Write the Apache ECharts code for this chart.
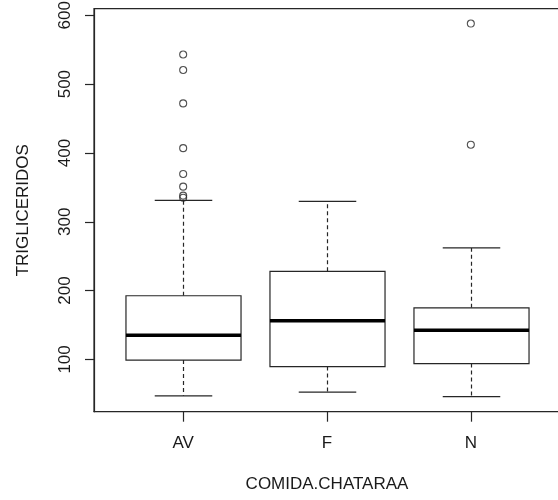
<!DOCTYPE html>
<html>
	<head>
		<meta charset="utf-8">
		<title>TRIGLICERIDOS por COMIDA.CHATARAA</title>
		<script src="https://cdn.jsdelivr.net/npm/echarts@6/dist/echarts.min.js"></script>
	</head>
	<body style="margin:0; background:#fff">
		<div id="container" style="width:558px; height:500px;"></div>
		<script type="text/javascript">
			// categorias del eje x
			var categories = ['AV', 'F', 'N'];
			// cinco numeros de cada caja (bigote inf, Q1, mediana, Q3, bigote sup)
			var lowerWhisker = [47, 52.5, 46];
			var q1 = [99, 89.5, 94];
			var median = [135, 156, 142.5];
			var q3 = [192.5, 228, 175];
			var upperWhisker = [331, 329.5, 262];
			// valores atipicos
			var outliersAV = [543, 520.5, 472, 407, 369.5, 351, 338, 335];
			var outliersF = [];
			var outliersN = [588, 412];
			// marcas del eje y
			var yTicks = [100, 200, 300, 400, 500, 600];

			var boxData = [];
			for (var i = 0; i < categories.length; i++) {
				boxData.push([i + 1, lowerWhisker[i], q1[i], median[i], q3[i], upperWhisker[i]]);
			}
			var outlierData = [];
			[outliersAV, outliersF, outliersN].forEach(function (list, i) {
				list.forEach(function (v) { outlierData.push([i + 1, v]); });
			});

			var lineColor = '#262626';
			var textColor = '#1a1a1a';
			var font = 'Liberation Sans, Arial, sans-serif';

			function renderBox(params, api) {
				var x = api.value(0);
				var lo = api.coord([x, api.value(1)]);
				var b1 = api.coord([x, api.value(2)]);
				var md = api.coord([x, api.value(3)]);
				var b3 = api.coord([x, api.value(4)]);
				var hi = api.coord([x, api.value(5)]);
				var unit = api.size([1, 0])[0];
				var half = unit * 0.4, cap = unit * 0.2;
				var cx = Math.round(lo[0]) + 0.5;
				var solid = { stroke: lineColor, lineWidth: 1.2, fill: null };
				var dashed = { stroke: lineColor, lineWidth: 1.2, lineDash: [4, 3] };
				return {
					type: 'group',
					children: [
						{ type: 'line', shape: { x1: cx, y1: b3[1], x2: cx, y2: hi[1] }, style: dashed },
						{ type: 'line', shape: { x1: cx, y1: b1[1], x2: cx, y2: lo[1] }, style: dashed },
						{ type: 'line', shape: { x1: cx - cap, y1: hi[1], x2: cx + cap, y2: hi[1] }, style: solid },
						{ type: 'line', shape: { x1: cx - cap, y1: lo[1], x2: cx + cap, y2: lo[1] }, style: solid },
						{ type: 'rect', shape: { x: cx - half, y: b3[1], width: half * 2, height: b1[1] - b3[1] }, style: { stroke: lineColor, lineWidth: 1.2, fill: '#fff' } },
						{ type: 'line', shape: { x1: cx - half, y1: md[1], x2: cx + half, y2: md[1] }, style: { stroke: '#000', lineWidth: 3.5 } }
					]
				};
			}

			var option = {
				animation: false,
				backgroundColor: '#fff',
				textStyle: { fontFamily: font },
				grid: {
					left: 94,
					top: 8.7,
					width: 466,
					height: 403,
					outerBoundsMode: 'none',
					show: true,
					borderColor: lineColor,
					borderWidth: 1.2,
					backgroundColor: 'transparent'
				},
				xAxis: {
					type: 'value',
					min: 0.38,
					max: 3.62,
					name: 'COMIDA.CHATARAA',
					nameLocation: 'middle',
					nameGap: 64,
					nameTextStyle: { fontSize: 17, color: textColor, fontFamily: font },
					axisLine: { show: true, lineStyle: { color: lineColor, width: 1.2 } },
					axisTick: { show: true, length: 10, customValues: [1, 2, 3], lineStyle: { color: lineColor, width: 1.2 } },
					axisLabel: {
						customValues: [1, 2, 3],
						margin: 23,
						fontSize: 17,
						color: textColor,
						fontFamily: font,
						formatter: function (v) { return categories[Math.round(v) - 1]; }
					},
					splitLine: { show: false }
				},
				yAxis: {
					type: 'value',
					min: 24,
					max: 609.6,
					name: 'TRIGLICERIDOS',
					nameLocation: 'middle',
					nameGap: 62,
					nameTextStyle: { fontSize: 17, color: textColor, fontFamily: font },
					axisLine: { show: true, lineStyle: { color: lineColor, width: 1.2 } },
					axisTick: { show: true, length: 9, customValues: yTicks, lineStyle: { color: lineColor, width: 1.2 } },
					axisLabel: {
						customValues: yTicks,
						rotate: 90,
						margin: 20,
						fontSize: 17,
						color: textColor,
						fontFamily: font
					},
					splitLine: { show: false }
				},
				series: [
					{
						type: 'custom',
						renderItem: renderBox,
						encode: { x: 0, y: [1, 2, 3, 4, 5] },
						data: boxData,
						z: 2
					},
					{
						type: 'scatter',
						symbol: 'circle',
						symbolSize: 7,
						itemStyle: { color: 'rgba(255,255,255,0)', borderColor: lineColor, borderWidth: 1.1 },
						data: outlierData,
						z: 3
					}
				]
			};

			var myChart = echarts.init(document.getElementById('container'));
			myChart.setOption(option);
		</script>
	</body>
</html>
